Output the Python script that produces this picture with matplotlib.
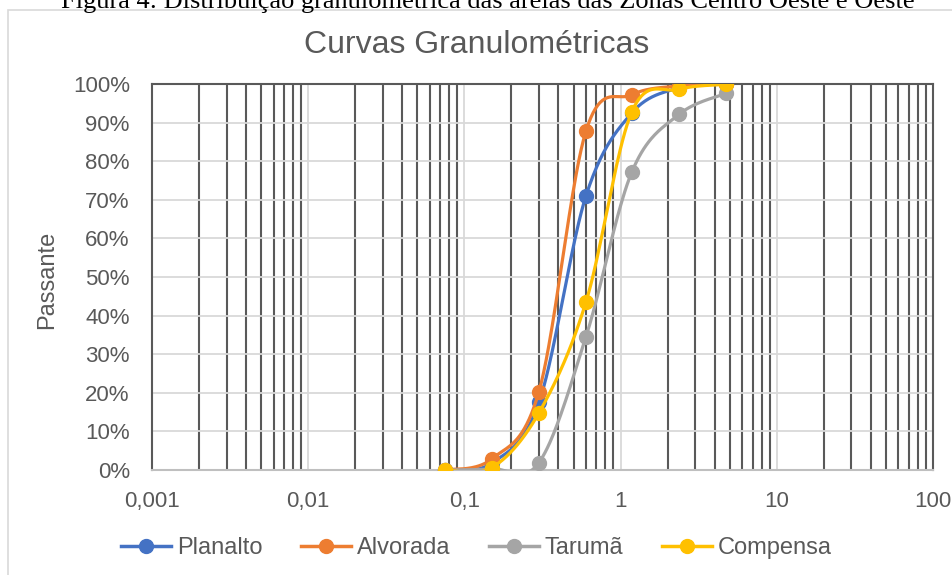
import matplotlib.pyplot as plt
import numpy as np
from matplotlib.patches import Rectangle
from matplotlib.ticker import FixedLocator, FuncFormatter, LogLocator, NullFormatter

plt.rcParams['font.family'] = ['Liberation Sans', 'DejaVu Sans']

# sieve openings (mm) and percent passing
sieves = [0.075, 0.15, 0.3, 0.6, 1.18, 2.36, 4.75]
planalto = [0.0, 1.8, 17.5, 71.0, 92.5, 99.0, 100.0]
alvorada = [0.0, 2.9, 20.3, 87.8, 97.2, 99.5, 100.0]
taruma = [0.0, 0.3, 1.9, 34.5, 77.2, 92.1, 97.6]
compensa = [0.0, 0.6, 14.8, 43.5, 92.8, 98.6, 99.9]

names = ["Planalto", "Alvorada", "Tarumã", "Compensa"]
colors = ["#4472C4", "#ED7D31", "#A5A5A5", "#FFC000"]
x_ticks = [0.001, 0.01, 0.1, 1, 10, 100]
x_labels = ["0,001", "0,01", "0,1", "1", "10", "100"]

txt = "#595959"


def smooth(xs, ys, n=40):
    # excel-like smoothed line (catmull-rom as bezier) in screen-ish space
    px = np.log10(xs) * 156.6
    py = np.array(ys) * 3.85
    P = np.column_stack([px, py])
    P = np.vstack([P[0], P, P[-1]])
    out = []
    t = np.linspace(0, 1, n)[:, None]
    for i in range(1, len(P) - 2):
        p0, p1, p2, p3 = P[i - 1], P[i], P[i + 1], P[i + 2]
        c1 = p1 + (p2 - p0) / 6
        c2 = p2 - (p3 - p1) / 6
        seg = ((1 - t) ** 3) * p1 + 3 * ((1 - t) ** 2) * t * c1 + 3 * (1 - t) * t ** 2 * c2 + t ** 3 * p2
        out.append(seg)
    out = np.vstack(out)
    return 10 ** (out[:, 0] / 156.6), out[:, 1] / 3.85


fig = plt.figure(figsize=(9.53, 5.75), dpi=100)
ax = fig.add_axes([152 / 953, 1 - 470 / 575, 781 / 953, 386 / 575])

for ys, name, c in zip([planalto, alvorada, taruma, compensa], names, colors):
    sx, sy = smooth(sieves, ys)
    ax.plot(sx, sy, color=c, lw=2.3, zorder=3, solid_capstyle='round')
    ax.plot(sieves, ys, 'o', color=c, ms=10, zorder=3)
    ax.plot([], [], color=c, lw=2.5, marker='o', ms=10, label=name)

ax.set_xscale('log')
ax.set_xlim(0.001, 100)
ax.set_ylim(0, 100)
ax.xaxis.set_major_locator(FixedLocator(x_ticks))
ax.xaxis.set_major_formatter(FuncFormatter(lambda v, p: x_labels[x_ticks.index(v)] if v in x_ticks else ""))
ax.xaxis.set_minor_locator(LogLocator(base=10, subs=np.arange(2, 10), numticks=20))
ax.xaxis.set_minor_formatter(NullFormatter())
ax.set_yticks(np.arange(0, 101, 10))
ax.set_yticklabels([f"{v}%" for v in range(0, 101, 10)])

ax.grid(which='major', axis='both', color='#d9d9d9', lw=1.3, zorder=1)
ax.grid(which='minor', axis='x', color='#595959', lw=1.5, zorder=2)
ax.set_axisbelow(True)
ax.tick_params(which='both', length=0, labelsize=16, colors=txt)
ax.tick_params(axis='x', pad=15)
ax.tick_params(axis='y', pad=16)

for s in ['top', 'left', 'right']:
    ax.spines[s].set_color('#595959')
    ax.spines[s].set_linewidth(1.5)
ax.spines['bottom'].set_color('#bfbfbf')
ax.spines['bottom'].set_linewidth(1.5)

fig.text(47 / 953, 1 - 280 / 575, "Passante", rotation=90, ha='center', va='center',
         fontsize=17, color=txt)
fig.text(0.5, 1 - 53 / 575, "Curvas Granulométricas", ha='center', va='baseline',
         fontsize=23, color=txt)
fig.text(488 / 953, 1 - 8 / 575, "Figura 4: Distribuição granulométrica das areias das Zonas Centro Oeste e Oeste",
         ha='center', va='baseline', fontsize=19, family='Liberation Serif', color='black')

fig.patches.append(Rectangle((8 / 953, -0.1), 1.2, 1 - 10 / 575 + 0.1, transform=fig.transFigure,
                             fill=False, edgecolor='#d9d9d9', lw=1.2))

fig.legend(loc='center', bbox_to_anchor=(0.5, 1 - 548 / 575), ncol=4, frameon=False,
           fontsize=17, labelcolor=txt, handlelength=2.1, handletextpad=0.25,
           columnspacing=1.65, numpoints=1)

fig.savefig("out.png", dpi=100)
